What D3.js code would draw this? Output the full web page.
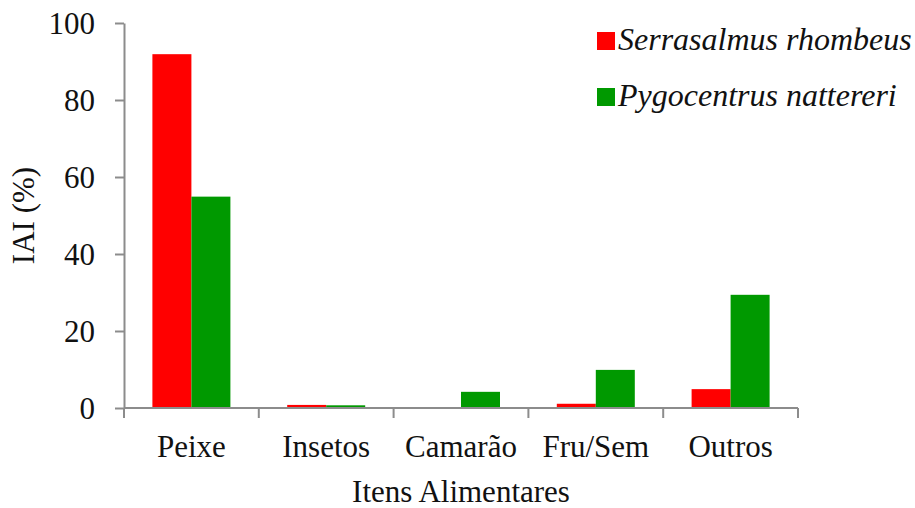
<!DOCTYPE html>
<html>
<head>
<meta charset="utf-8">
<script src="https://cdn.jsdelivr.net/npm/d3@7"></script>
<style>
  body { margin: 0; background: #fff; }
  svg text { font-family: "Liberation Serif", "Times New Roman", serif; fill: #111; }
</style>
</head>
<body>
<svg width="915" height="508"></svg>
<script>
// IAI bar chart

var categories = ['Peixe', 'Insetos', 'Camarão', 'Fru/Sem', 'Outros']
var seriesNames = ['Serrasalmus rhombeus', 'Pygocentrus nattereri']
var rhombeus = [91.9, 0.8, 0, 1.1, 4.9]
var nattereri = [54.9, 0.7, 4.2, 9.9, 29.4]
var yTicks = [0, 20, 40, 60, 80, 100]
var colors = ['#ff0000', '#009900']

var svg = d3.select('svg')
var mLeft = 124, mRight = 798, mTop = 23, mBottom = 408

var x = d3.scaleBand()
	.domain(categories)
	.range([mLeft, mRight])
	.paddingInner(0)
	.paddingOuter(0)

var y = d3.scaleLinear()
	.domain([0, 100])
	.range([mBottom, mTop])

var barW = 39
var series = [rhombeus, nattereri]

// bars
series.forEach(function(vals, s) {
	svg.append('g')
		.selectAll('rect')
		.data(categories)
		.enter()
		.append('rect')
		.attr('x', function(d) { return x(d) + (x.bandwidth() - 2 * barW) / 2 + s * barW })
		.attr('width', barW)
		.attr('y', function(d, i) { return y(vals[i]) })
		.attr('height', function(d, i) { return y(0) - y(vals[i]) })
		.attr('fill', colors[s])
})

// y axis
var yAxis = svg.append('g')
	.attr('transform', 'translate(' + mLeft + ',0)')
	.call(d3.axisLeft(y).tickValues(yTicks).tickSize(9).tickPadding(20).tickSizeOuter(0))
yAxis.selectAll('text').style('font-size', '31px').attr('dy', '0.35em')

// x axis: ticks at band edges
var xAxis = svg.append('g')
	.attr('transform', 'translate(0,' + mBottom + ')')
xAxis.append('line')
	.attr('x1', mLeft).attr('x2', mRight)
xAxis.selectAll('.edge')
	.data(d3.range(categories.length + 1))
	.enter()
	.append('line')
	.attr('class', 'edge')
	.attr('x1', function(i) { return mLeft + i * x.bandwidth() })
	.attr('x2', function(i) { return mLeft + i * x.bandwidth() })
	.attr('y1', 0).attr('y2', 10)
xAxis.selectAll('text')
	.data(categories)
	.enter()
	.append('text')
	.attr('x', function(d) { return x(d) + x.bandwidth() / 2 })
	.attr('y', 49)
	.attr('text-anchor', 'middle')
	.style('font-size', '31px')
	.text(function(d) { return d })

svg.selectAll('.domain, .tick line').attr('stroke', '#8c8c8c').attr('stroke-width', 2)
xAxis.selectAll('line').attr('stroke', '#8c8c8c').attr('stroke-width', 2)

// axis titles
svg.append('text')
	.attr('x', (mLeft + mRight) / 2)
	.attr('y', 502)
	.attr('text-anchor', 'middle')
	.style('font-size', '31px')
	.text('Itens Alimentares')

svg.append('text')
	.attr('transform', 'translate(34,' + ((mTop + mBottom) / 2) + ') rotate(-90)')
	.attr('text-anchor', 'middle')
	.style('font-size', '31px')
	.text('IAI (%)')

// legend
var legend = svg.append('g')
	.selectAll('g')
	.data(seriesNames)
	.enter()
	.append('g')
	.attr('transform', function(d, i) { return 'translate(597,' + (32 + i * 56) + ')' })
legend.append('rect')
	.attr('width', 18).attr('height', 18)
	.attr('fill', function(d, i) { return colors[i] })
legend.append('text')
	.attr('x', 21).attr('y', 18)
	.style('font-size', '32px')
	.style('font-style', 'italic')
	.text(function(d) { return d })
</script>
</body>
</html>
